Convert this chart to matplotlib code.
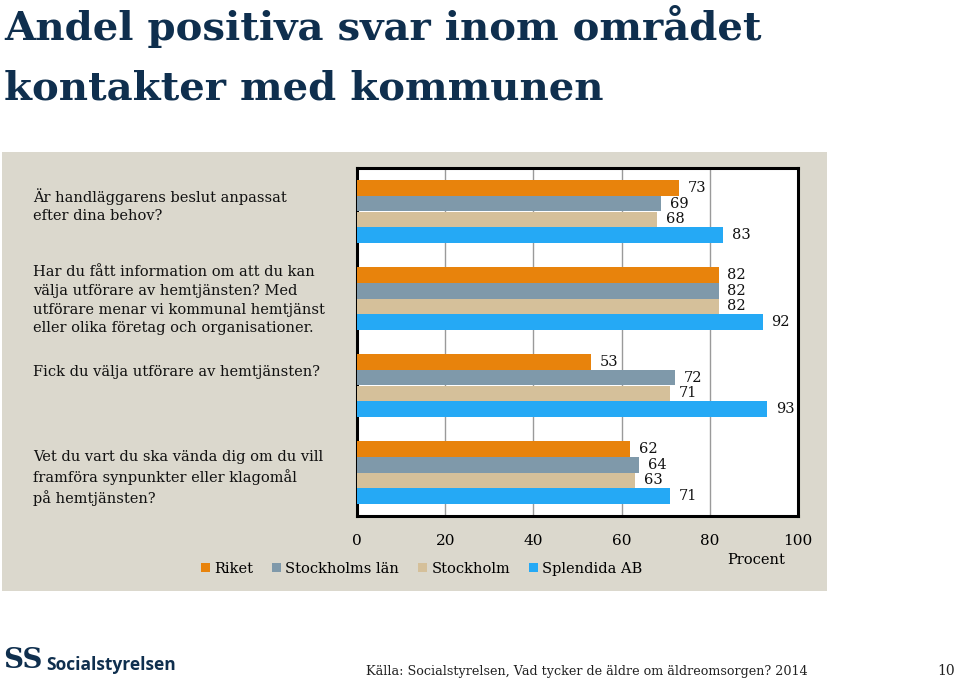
import matplotlib
matplotlib.use("Agg")
import matplotlib.pyplot as plt
import matplotlib.transforms as mtransforms
from matplotlib.patches import Rectangle, Patch
import numpy as np

# data
questions = [
    "Är handläggarens beslut anpassat\nefter dina behov?",
    "Har du fått information om att du kan\nvälja utförare av hemtjänsten? Med\n"
    "utförare menar vi kommunal hemtjänst\neller olika företag och organisationer.",
    "Fick du välja utförare av hemtjänsten?",
    "Vet du vart du ska vända dig om du vill\nframföra synpunkter eller klagomål\npå hemtjänsten?",
]
series = ["Riket", "Stockholms län", "Stockholm", "Splendida AB"]
riket = [73, 82, 53, 62]
stockholms_lan = [69, 82, 72, 64]
stockholm = [68, 82, 71, 63]
splendida = [83, 92, 93, 71]
xticks = [0, 20, 40, 60, 80, 100]

colors = ["#e8830c", "#7f99aa", "#d5c09a", "#25a9f5"]
navy = "#0f2f4e"
panel_color = "#dbd8cd"
serif = "DejaVu Serif"

W, H = 960, 683


def fx(px):
    return px / W


def fy(py):
    return 1 - py / H


fig = plt.figure(figsize=(9.6, 6.83), dpi=100)
fig.patch.set_facecolor("white")

# title
fig.text(fx(4), fy(40), "Andel positiva svar inom området", fontsize=29,
         fontweight="bold", family=serif, color=navy, va="baseline")
fig.text(fx(4), fy(100), "kontakter med kommunen", fontsize=29,
         fontweight="bold", family=serif, color=navy, va="baseline")

# grey-beige panel behind the chart
fig.patches.append(Rectangle((fx(2), fy(591)), fx(825), (591 - 152) / H,
                             transform=fig.transFigure, facecolor=panel_color,
                             edgecolor="none", zorder=-5))

ax = fig.add_axes([fx(357), fy(516), fx(441), (516 - 168) / H])
ax.set_zorder(2)
ax.set_facecolor("white")

values = [riket, stockholms_lan, stockholm, splendida]
bar_h = 0.18
offsets = [-0.27, -0.09, 0.09, 0.27]
ypos = np.arange(len(questions))
for vals, off, col in zip(values, offsets, colors):
    bars = ax.barh(ypos + off, vals, height=bar_h, color=col, zorder=3)
    for b, v in zip(bars, vals):
        ax.text(v + 2, b.get_y() + b.get_height() / 2, str(v), va="center",
                ha="left", fontsize=10.5, family=serif, color="#111111", zorder=4)

ax.set_xlim(0, 100)
ax.set_ylim(len(questions) - 0.5, -0.5)
ax.set_yticks([])
ax.set_xticks(xticks)
ax.set_xticklabels([str(t) for t in xticks], family=serif, fontsize=11)
ax.tick_params(axis="x", length=0, pad=13)
for x in xticks[1:-1]:
    ax.axvline(x, color="#9a9a9a", lw=1, zorder=1)
for s in ax.spines.values():
    s.set_linewidth(2.2)
    s.set_color("black")

# question labels on the left
label_shift = [-0.27, -0.38, -0.24, -0.26]
trans = mtransforms.blended_transform_factory(fig.transFigure, ax.transData)
for i, (q, sh) in enumerate(zip(questions, label_shift)):
    ax.text(fx(33), i + sh, q, transform=trans, va="top", ha="left",
            fontsize=10.5, family=serif, color="#111111", linespacing=1.42,
            clip_on=False)

fig.text(fx(756), fy(560), "Procent", family=serif, fontsize=10.5,
         ha="center", va="center")

handles = [Patch(facecolor=c, edgecolor="none") for c in colors]
fig.legend(handles, series, loc="center left", bbox_to_anchor=(fx(188), fy(569)),
           ncol=4, frameon=False, prop={"family": serif, "size": 10.5},
           handlelength=0.6, handleheight=0.6, handletextpad=0.3,
           columnspacing=1.3)

# footer
fig.text(fx(3), fy(661), "SS", fontsize=20, fontweight="bold", family=serif,
         color=navy, va="center")
fig.text(fx(46), fy(665), "Socialstyrelsen", fontsize=12.5, fontweight="bold",
         family="Open Sans", color=navy, va="center")
fig.text(fx(366), fy(671), "Källa: Socialstyrelsen, Vad tycker de äldre om äldreomsorgen? 2014",
         fontsize=9.2, family=serif, color="#222222", va="center")
fig.text(fx(955), fy(671), "10", fontsize=10, family=serif, color="#222222",
         va="center", ha="right")

fig.savefig("out.png", dpi=100)
